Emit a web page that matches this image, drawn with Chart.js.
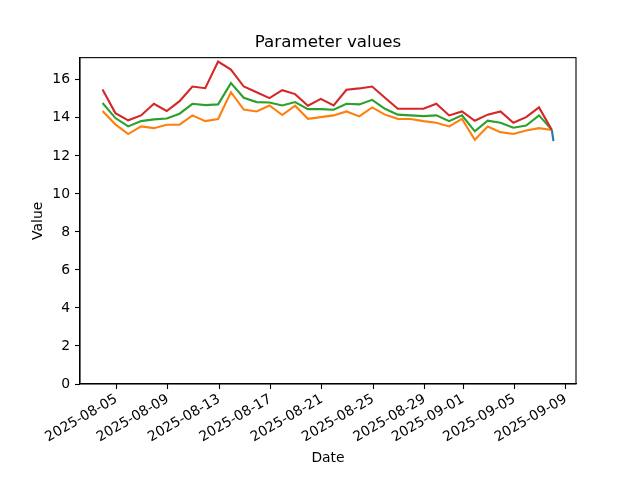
<!DOCTYPE html>
<html>
<head>
<meta charset="utf-8">
<title>Parameter values</title>
<script src="https://cdn.jsdelivr.net/npm/chart.js@4/dist/chart.umd.min.js"></script>
<style>
  body { margin: 0; background: #ffffff; }
  #chart { display: block; }
</style>
</head>
<body>
<canvas id="chart" width="640" height="480"></canvas>
<script>
// Daily samples (taken at 22:00 UTC)
const sampleDays = [
    '2025-08-03', '2025-08-04', '2025-08-05', '2025-08-06', '2025-08-07', '2025-08-08',
    '2025-08-09', '2025-08-10', '2025-08-11', '2025-08-12', '2025-08-13', '2025-08-14',
    '2025-08-15', '2025-08-16', '2025-08-17', '2025-08-18', '2025-08-19', '2025-08-20',
    '2025-08-21', '2025-08-22', '2025-08-23', '2025-08-24', '2025-08-25', '2025-08-26',
    '2025-08-27', '2025-08-28', '2025-08-29', '2025-08-30', '2025-08-31', '2025-09-01',
    '2025-09-02', '2025-09-03', '2025-09-04', '2025-09-05', '2025-09-06', '2025-09-07'
];
const sampleTime = 'T22:00:00Z';

const orangeValues = [
    14.36, 13.66, 13.15, 13.55, 13.46, 13.64, 13.64, 14.13, 13.83, 13.94, 15.35, 14.44,
    14.34, 14.65, 14.15, 14.64, 13.95, 14.04, 14.13, 14.34, 14.08, 14.55, 14.17, 13.95,
    13.94, 13.83, 13.74, 13.55, 13.95, 12.85, 13.55, 13.25, 13.15, 13.34, 13.46, 13.36
];
const greenValues = [
    14.78, 13.99, 13.55, 13.83, 13.92, 13.97, 14.22, 14.74, 14.67, 14.71, 15.83, 15.06,
    14.83, 14.81, 14.65, 14.83, 14.46, 14.46, 14.43, 14.74, 14.71, 14.95, 14.48, 14.17,
    14.13, 14.09, 14.13, 13.83, 14.13, 13.29, 13.85, 13.74, 13.48, 13.60, 14.13, 13.37
];
const redValues = [
    15.49, 14.25, 13.87, 14.13, 14.74, 14.36, 14.88, 15.65, 15.56, 16.96, 16.54, 15.65,
    15.35, 15.04, 15.46, 15.25, 14.64, 15.00, 14.65, 15.48, 15.55, 15.65, 15.06, 14.48,
    14.48, 14.48, 14.74, 14.13, 14.34, 13.85, 14.17, 14.34, 13.74, 14.04, 14.55, 13.36
];

// Short blue series at the very end
const blueTimes = ['2025-09-07T22:00:00Z', '2025-09-08T01:00:00Z'];
const blueValues = [13.36, 12.78];

const xTickDays = ['2025-08-05', '2025-08-09', '2025-08-13', '2025-08-17', '2025-08-21',
    '2025-08-25', '2025-08-29', '2025-09-01', '2025-09-05', '2025-09-09'];
const yTicks = [0, 2, 4, 6, 8, 10, 12, 14, 16];

function toPoints(times, values) {
    return times.map((t, i) => ({ x: Date.parse(t), y: values[i] }));
}

const dailyTimes = sampleDays.map(d => d + sampleTime);
const allX = dailyTimes.concat(blueTimes).map(t => Date.parse(t));
const xMin = Math.min(...allX);
const xMax = Math.max(...allX);
const xPad = (xMax - xMin) * 0.05;

const allY = orangeValues.concat(greenValues, redValues, blueValues);
const yTop = Math.max(...allY) + (Math.max(...allY) - Math.min(...allY)) * 0.05;

const tickFont = { family: "'DejaVu Sans', sans-serif", size: 13.9 };

// matplotlib-like frame on all four sides
const framePlugin = {
    id: 'frame',
    afterDraw(chart) {
        const a = chart.chartArea;
        const ctx = chart.ctx;
        ctx.save();
        ctx.strokeStyle = '#000000';
        ctx.lineWidth = 1.1;
        ctx.strokeRect(a.left, a.top, a.right - a.left, a.bottom - a.top);
        ctx.restore();
    }
};

function lineSet(label, points, color, order) {
    return {
        label: label,
        data: points,
        borderColor: color,
        backgroundColor: color,
        borderWidth: 2.1,
        pointRadius: 0,
        tension: 0,
        fill: false,
        order: order
    };
}

const ctx = document.getElementById('chart').getContext('2d');
const chart = new Chart(ctx, {
    type: 'line',
    data: {
        datasets: [
            lineSet('blue', toPoints(blueTimes, blueValues), '#1f77b4', 3),
            lineSet('orange', toPoints(dailyTimes, orangeValues), '#ff7f0e', 2),
            lineSet('green', toPoints(dailyTimes, greenValues), '#2ca02c', 1),
            lineSet('red', toPoints(dailyTimes, redValues), '#d62728', 0)
        ]
    },
    options: {
        responsive: false,
        animation: false,
        // left 16 + y axis 64 and an empty right axis of 64 keep the title over the plot centre
        layout: { padding: { left: 16, right: 0, top: 0, bottom: 0 } },
        plugins: {
            legend: { display: false },
            tooltip: { enabled: false },
            title: {
                display: true,
                text: 'Parameter values',
                color: '#000000',
                font: { family: "'DejaVu Sans', sans-serif", size: 16.7, weight: 'normal' },
                padding: { top: 33, bottom: 4.6 }
            }
        },
        scales: {
            x: {
                type: 'linear',
                min: xMin - xPad,
                max: xMax + xPad,
                afterBuildTicks: function(scale) {
                    scale.ticks = xTickDays.map(d => ({ value: Date.parse(d + 'T00:00:00Z') }));
                },
                afterFit: function(scale) { scale.height = 96; },
                ticks: {
                    color: '#000000',
                    font: tickFont,
                    maxRotation: 30,
                    minRotation: 30,
                    padding: 2,
                    autoSkip: false,
                    callback: function(value) {
                        return new Date(value).toISOString().slice(0, 10);
                    }
                },
                grid: {
                    drawOnChartArea: false,
                    tickLength: 5,
                    tickColor: '#000000',
                    tickWidth: 1.1
                },
                border: { color: '#000000', width: 1.1 },
                title: {
                    display: true,
                    text: 'Date',
                    color: '#000000',
                    font: tickFont,
                    padding: { top: 0, bottom: 13 }
                }
            },
            y: {
                min: 0,
                max: yTop,
                afterBuildTicks: function(scale) {
                    scale.ticks = yTicks.map(v => ({ value: v }));
                },
                afterFit: function(scale) { scale.width = 64; },
                ticks: {
                    color: '#000000',
                    font: tickFont,
                    padding: 5
                },
                grid: {
                    drawOnChartArea: false,
                    tickLength: 5,
                    tickColor: '#000000',
                    tickWidth: 1.1
                },
                border: { color: '#000000', width: 1.1 },
                title: {
                    display: true,
                    text: 'Value',
                    color: '#000000',
                    font: tickFont,
                    padding: { top: 14, bottom: 0 }
                }
            },
            yRight: {
                position: 'right',
                min: 0,
                max: yTop,
                afterFit: function(scale) { scale.width = 64; },
                ticks: { display: false },
                grid: { display: false },
                border: { display: false }
            }
        }
    },
    plugins: [framePlugin]
});
</script>
</body>
</html>
